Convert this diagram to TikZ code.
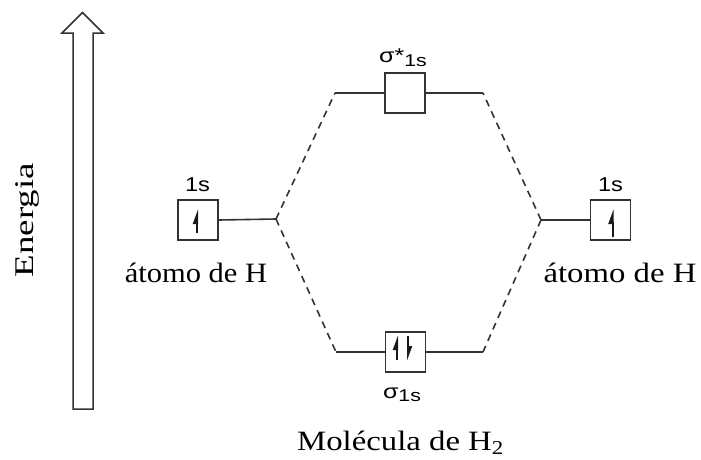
\documentclass[tikz,border=0pt]{standalone}
\usepackage{fontspec}
\setmainfont{Liberation Serif}
\setsansfont{Liberation Sans}
\usetikzlibrary{arrows.meta}

% the lettering is set a little wide
\newcommand\widetext[2][1.17]{\scalebox{#1}[1]{#2}}

\begin{document}
\begin{tikzpicture}[x=1pt, y=-1pt,
  ink/.style={draw=black!80, line width=1.6pt},
  orb/.style={ink, minimum size=40pt, inner sep=0pt},
  levelline/.style={ink},
  link/.style={ink, dash pattern=on 7pt off 5.5pt},
  spin/.style={line width=2pt, black!90, -{Triangle[left, length=12pt, width=8pt]}},
  lab/.style={font=\sffamily\fontsize{20}{20}\selectfont, inner sep=0pt},
  serif/.style={font=\fontsize{28}{28}\selectfont, inner sep=0pt}]
\useasboundingbox (0,0) rectangle (701,459);

% energy axis: hollow arrow
\draw[line width=1.5pt, black!80, line join=miter]
  (73,409) -- (73,33) -- (62,33) -- (82.5,12.5) -- (103,33) -- (93,33) -- (93,409) -- cycle;
\node[serif, font=\fontsize{27}{27}\selectfont, rotate=90] (energia) at (27,220) {\widetext[1.37]{Energia}};

% atomic orbitals
\node[orb] (hL) at (198,220) {};
\node[orb] (hR) at (610.5,220) {};
\node[lab] (hLlab) at (197.5,185) {\widetext[1.18]{1s}};
\node[lab] (hRlab) at (610.5,185) {\widetext[1.18]{1s}};
\node[serif, anchor=base] (atomL) at (196,282) {\widetext[1.09]{átomo de H}};
\node[serif, anchor=base] (atomR) at (620,282) {\widetext{átomo de H}};

% molecular orbitals
\node[orb] (sigstar) at (405,93) {};
\node[orb] (sig) at (405.5,352) {};
\node[lab] (sigstarlab) at (403,58) {\widetext[1.25]{σ*\raisebox{-4pt}{\fontsize{17}{17}\selectfont 1s}}};
\node[lab] (siglab) at (402,395) {\widetext[1.25]{σ\raisebox{-3pt}{\fontsize{17}{17}\selectfont 1s}}};
\node[serif, anchor=base west] (mol) at (297,450) {\widetext{Molécula de H\textsubscript{2}}};

% level ends and junctions
\coordinate (jL) at (276,219);
\coordinate (jR) at (541,220);
\coordinate (sL) at (335,93);
\coordinate (sR) at (483,93);
\coordinate (bL) at (336,352);
\coordinate (bR) at (483,352);

% energy levels
\draw[levelline] (hL.east) -- (jL);
\draw[levelline] (hR.west) -- (jR);
\draw[levelline] (sL) -- (sigstar.west);
\draw[levelline] (sigstar.east) -- (sR);
\draw[levelline] (bL) -- (sig.west);
\draw[levelline] (sig.east) -- (bR);

% correlation lines
\draw[link] (jL) -- (sL);
\draw[link] (jL) -- (bL);
\draw[link] (jR) -- (sR);
\draw[link] (jR) -- (bR);

% electrons
\draw[spin] (hL.center) ++(-1,13) -- ++(0,-24);
\draw[spin] (hR.center) ++(2,17) -- ++(0,-28);
\draw[spin] (sig.center) ++(-8.5,8) -- ++(0,-25);
\draw[spin] (sig.center) ++(2.5,-16) -- ++(0,25);
\end{tikzpicture}
\end{document}
